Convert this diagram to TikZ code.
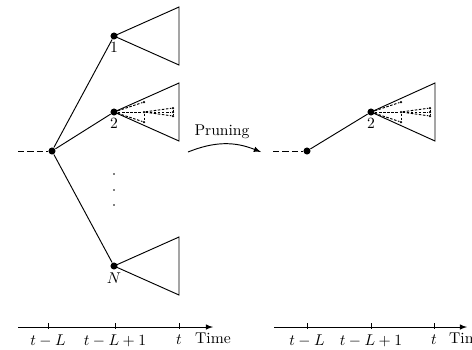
\documentclass[tikz,border=0pt]{standalone}
\usetikzlibrary{arrows}
\tikzset{
  bigdot/.style={circle,fill=black,inner sep=0pt,minimum size=4.5pt},
  smalldot/.style={circle,fill=black,inner sep=0pt,minimum size=1.6pt},
  lead/.style={dash pattern=on 4pt off 2pt},
  fan/.style={dash pattern=on 1.6pt off 1pt},
}
% dashed fan of sub-paths inside a pruned subtree
\newcommand{\subfan}[2]{%
  \node[smalldot] (#2u) at ([shift={(30,-10)}]#1) {};
  \node[smalldot] (#2m) at ([shift={(30,0)}]#1) {};
  \node[smalldot] (#2l) at ([shift={(30,10)}]#1) {};
  \node[smalldot] (#2a) at ([shift={(59,-4)}]#1) {};
  \node[smalldot] (#2b) at ([shift={(59,0)}]#1) {};
  \node[smalldot] (#2c) at ([shift={(59,4)}]#1) {};
  \foreach \k in {u,m,l} \draw[fan] (#1) -- (#2\k);
  \foreach \k in {a,b,c} \draw[fan] (#2m) -- (#2\k);
  \draw[fan] (#2m) -- (#2l);
  \draw[fan] (#2a) -- (#2c);
}
\begin{document}
\begin{tikzpicture}[x=0.64pt,y=-0.64pt,line width=0.6pt]
\useasboundingbox (0,0) rectangle (472,349);
% full tree
\coordinate (lin) at (18,151);
\node[bigdot] (root) at (52,151) {};
\node[bigdot,label={[label distance=-2pt]below:$1$}] (n1) at (114,36) {};
\node[bigdot,label={[label distance=-2pt]below:$2$}] (n2) at (114,112) {};
\node[bigdot,label={[label distance=-2pt]below:$N$}] (nN) at (114,266) {};
\draw[lead] (lin) -- (root);
\draw (root) -- (n1);
\draw (root) -- (n2);
\draw (root) -- (nN);
\draw (n1.center) -- ++(65,-29) -- ++(0,58) -- cycle;
\draw (n2.center) -- ++(65,-29) -- ++(0,58) -- cycle;
\draw (nN.center) -- ++(65,-29) -- ++(0,58) -- cycle;
\subfan{n2}{f}
\foreach \y in {174,190,205} \fill (114,\y) circle (0.6pt);
% pruning
\node (prune) at (222,132) {Pruning};
\coordinate (ps) at (188,152);
\coordinate (pe) at (261,152);
\draw[-latex] (ps) to[bend left=22] (pe);
% pruned tree
\coordinate (rin) at (273,151);
\node[bigdot] (rroot) at (307,151) {};
\node[bigdot,label={[label distance=-2pt]below:$2$}] (r2) at (371,112) {};
\draw[lead] (rin) -- (rroot);
\draw (rroot) -- (r2);
\draw (r2.center) -- ++(64,-29) -- ++(0,58) -- cycle;
\subfan{r2}{g}
% time axes
\coordinate (la0) at (18,327);
\coordinate (la1) at (213,327);
\draw[-latex] (la0) -- (la1) node[below] (ltime) {Time};
\foreach \x/\t in {48/{$t-L$},115/{$t-L+1$},179/{$t$}} {
  \draw (\x,323) -- (\x,329);
  \node[below] at (\x,329) {\t};
}
\coordinate (ra0) at (274,327);
\coordinate (ra1) at (467,327);
\draw[-latex] (ra0) -- (ra1) node[below] (rtime) {Time};
\foreach \x/\t in {307/{$t-L$},371/{$t-L+1$},434/{$t$}} {
  \draw (\x,323) -- (\x,329);
  \node[below] at (\x,329) {\t};
}
\end{tikzpicture}
\end{document}
